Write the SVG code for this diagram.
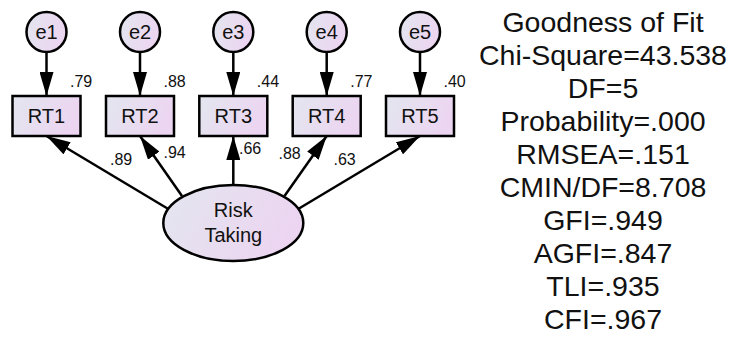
<svg xmlns="http://www.w3.org/2000/svg" width="730" height="337" viewBox="0 0 730 337">
<defs>
<linearGradient id="g" x1="0" y1="0" x2="1" y2="0.3">
<stop offset="0" stop-color="#e3e6ef"/>
<stop offset="1" stop-color="#ecd5f1"/>
</linearGradient>
<marker id="ah" viewBox="0 0 24 14" refX="24" refY="7" markerWidth="24" markerHeight="14" markerUnits="userSpaceOnUse" orient="auto">
<path d="M0,0 L24,7 L0,14 Z" fill="#000"/>
</marker>
<style>
.n{fill:url(#g);stroke:#000;stroke-width:2.5}
.c line{stroke:#000;stroke-width:2.5;marker-end:url(#ah)}
text{font-family:"Liberation Sans",Arial,sans-serif;fill:#111}
.lbl{font-size:20px;text-anchor:middle}
.num{font-size:16px}
.fit{font-size:28.5px;text-anchor:middle}
</style>
</defs>
<rect width="730" height="337" fill="#fff"/>
<g id="connectors" class="c">
<line x1="46.5" y1="52" x2="46.5" y2="96"/>
<line x1="140" y1="52" x2="140" y2="96"/>
<line x1="233.3" y1="52" x2="233.3" y2="96"/>
<line x1="326.7" y1="52" x2="326.7" y2="96"/>
<line x1="420" y1="52" x2="420" y2="96"/>
<line x1="170" y1="210" x2="46.5" y2="136"/>
<line x1="182" y1="196" x2="140" y2="136"/>
<line x1="233.3" y1="190" x2="233.3" y2="136"/>
<line x1="284.5" y1="196" x2="326.7" y2="136"/>
<line x1="296.5" y1="210" x2="420" y2="136"/>
</g>
<g id="e1"><circle class="n" cx="46.5" cy="32" r="20"/><text class="lbl" x="46.5" y="39">e1</text></g>
<g id="e2"><circle class="n" cx="140" cy="32" r="20"/><text class="lbl" x="140" y="39">e2</text></g>
<g id="e3"><circle class="n" cx="233.3" cy="32" r="20"/><text class="lbl" x="233.3" y="39">e3</text></g>
<g id="e4"><circle class="n" cx="326.7" cy="32" r="20"/><text class="lbl" x="326.7" y="39">e4</text></g>
<g id="e5"><circle class="n" cx="420" cy="32" r="20"/><text class="lbl" x="420" y="39">e5</text></g>
<g id="RT1"><rect class="n" x="12.5" y="96" width="68" height="40"/><text class="lbl" x="46.5" y="123">RT1</text><text class="num" x="70" y="87">.79</text></g>
<g id="RT2"><rect class="n" x="106" y="96" width="68" height="40"/><text class="lbl" x="140" y="123">RT2</text><text class="num" x="163.5" y="87">.88</text></g>
<g id="RT3"><rect class="n" x="199.3" y="96" width="68" height="40"/><text class="lbl" x="233.3" y="123">RT3</text><text class="num" x="256.8" y="87">.44</text></g>
<g id="RT4"><rect class="n" x="292.7" y="96" width="68" height="40"/><text class="lbl" x="326.7" y="123">RT4</text><text class="num" x="350.2" y="87">.77</text></g>
<g id="RT5"><rect class="n" x="386" y="96" width="68" height="40"/><text class="lbl" x="420" y="123">RT5</text><text class="num" x="443.5" y="87">.40</text></g>
<g id="RiskTaking"><ellipse class="n" cx="233.3" cy="223" rx="70" ry="38"/><text class="lbl" x="233.3" y="217">Risk</text><text class="lbl" x="233.3" y="242">Taking</text></g>
<g id="path-labels">
<text class="num" x="110" y="165">.89</text>
<text class="num" x="163.5" y="158">.94</text>
<text class="num" x="239" y="154">.66</text>
<text class="num" x="278.5" y="159">.88</text>
<text class="num" x="333.5" y="165">.63</text>
</g>
<g id="fit">
<text class="fit" x="603" y="31.5">Goodness of Fit</text>
<text class="fit" x="603" y="64.6">Chi-Square=43.538</text>
<text class="fit" x="603" y="97.7">DF=5</text>
<text class="fit" x="603" y="130.8">Probability=.000</text>
<text class="fit" x="603" y="163.9">RMSEA=.151</text>
<text class="fit" x="603" y="197">CMIN/DF=8.708</text>
<text class="fit" x="603" y="230.1">GFI=.949</text>
<text class="fit" x="603" y="263.2">AGFI=.847</text>
<text class="fit" x="603" y="296.3">TLI=.935</text>
<text class="fit" x="603" y="329.4">CFI=.967</text>
</g>
</svg>
